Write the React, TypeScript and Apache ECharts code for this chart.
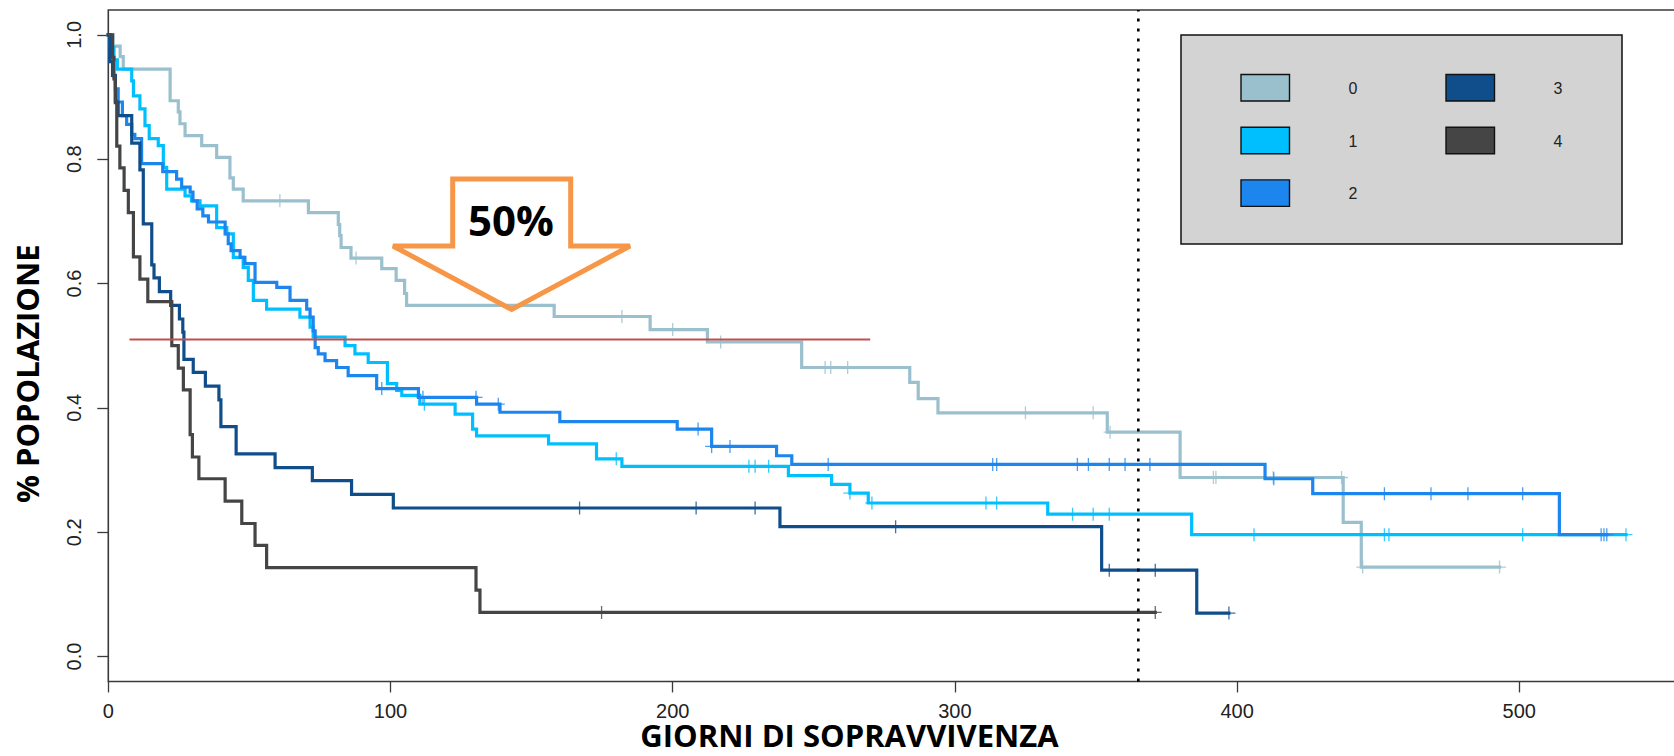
import React, { useEffect, useRef } from "react";
import * as echarts from "echarts";

// Groups and their line colours
const groups = ["0", "1", "2", "3", "4"];
const colors = ["#9AC0CD", "#00BFFF", "#1C86EE", "#104E8B", "#454545"];

// Kaplan–Meier steps per group: event time (days) and survival after the event
const times0 = [0, 1.7, 4.2, 5.3, 21.9, 24.8, 25.4, 27.2, 33.1, 38.4, 43.1, 44.3, 47.8, 70.9, 81.5, 82, 82.5, 86, 96.9, 102, 105, 105.7, 158, 192, 212.3, 245.7, 284, 287, 294, 354, 379.8, 437.6, 444];
const surv0 = [1, 0.982, 0.965, 0.945, 0.894, 0.876, 0.857, 0.838, 0.822, 0.803, 0.77, 0.752, 0.733, 0.714, 0.695, 0.677, 0.658, 0.641, 0.624, 0.605, 0.584, 0.565, 0.547, 0.526, 0.506, 0.465, 0.441, 0.415, 0.392, 0.361, 0.288, 0.216, 0.144];
const censor0 = [60.8, 87.8, 182, 200, 217, 254, 256, 262, 325, 349, 355, 391.6, 392.5, 412.8, 437, 444.5, 493];
const lastFollowUp0 = 493;

const times1 = [0, 0.5, 2, 3.2, 8.3, 8.9, 11.2, 13, 14.5, 17.7, 19.5, 20.7, 27.2, 29.5, 32.5, 38.4, 42, 44.3, 47.8, 49.6, 51.4, 56.1, 67.9, 71.5, 72.6, 83.9, 87.4, 92.1, 98.9, 102.2, 104, 110.4, 122.9, 129.1, 130.5, 156, 173, 182, 241, 256.3, 262.8, 269.3, 332.9, 383.9];
const surv1 = [1, 0.98, 0.96, 0.945, 0.926, 0.902, 0.881, 0.854, 0.833, 0.822, 0.787, 0.752, 0.741, 0.733, 0.725, 0.69, 0.68, 0.642, 0.626, 0.605, 0.573, 0.559, 0.546, 0.53, 0.514, 0.5, 0.487, 0.473, 0.439, 0.428, 0.42, 0.406, 0.39, 0.366, 0.355, 0.342, 0.318, 0.306, 0.291, 0.277, 0.263, 0.247, 0.229, 0.196];
const censor1 = [112, 180, 227, 229.2, 234, 262.8, 270.6, 311, 314.8, 341.7, 349, 354.7, 406, 452.2, 453.8, 501.2, 537.8];
const lastFollowUp1 = 537.8;

const times2 = [0, 0.7, 1.2, 1.8, 2.5, 3.5, 5, 6.5, 8.3, 9.4, 11.8, 19.3, 24.2, 26, 29, 30, 31.5, 33.5, 35.5, 41.4, 42.5, 43.5, 46.7, 48.4, 52, 59.7, 64.4, 70.3, 71.5, 72.6, 73.3, 74.4, 76.8, 80.9, 85, 95.1, 109.9, 130.5, 138.8, 160, 201.6, 213.8, 236.8, 242.2, 409.9, 426.8, 514.2];
const surv2 = [1, 0.98, 0.96, 0.934, 0.913, 0.892, 0.87, 0.856, 0.84, 0.833, 0.793, 0.78, 0.768, 0.755, 0.747, 0.733, 0.72, 0.709, 0.699, 0.68, 0.664, 0.653, 0.642, 0.632, 0.602, 0.594, 0.573, 0.559, 0.546, 0.524, 0.497, 0.487, 0.476, 0.465, 0.452, 0.431, 0.417, 0.406, 0.393, 0.378, 0.366, 0.338, 0.323, 0.309, 0.286, 0.262, 0.196];
const censor2 = [96.9, 111.5, 130.3, 138.2, 209, 213.8, 220.3, 255.1, 313.4, 314.8, 343.4, 347.3, 354.7, 360.3, 369.1, 413, 452.2, 468.7, 481.8, 501.2, 529, 530, 531];
const lastFollowUp2 = 531;

const times3 = [0, 0.5, 1.5, 2.5, 3.5, 8.3, 11.2, 12.4, 15.4, 16.2, 18.1, 22.1, 25.2, 26.4, 26.8, 30.1, 34.4, 39.2, 39.9, 45.3, 59.1, 72.3, 86.2, 101, 238, 352, 385.7];
const surv3 = [1, 0.957, 0.935, 0.891, 0.87, 0.826, 0.783, 0.696, 0.63, 0.609, 0.587, 0.565, 0.543, 0.522, 0.478, 0.457, 0.435, 0.413, 0.37, 0.326, 0.304, 0.283, 0.261, 0.239, 0.209, 0.139, 0.07];
const censor3 = [167, 208.3, 229.2, 279, 354.7, 371, 397.1];
const lastFollowUp3 = 397.1;

const times4 = [0, 1.5, 2, 2.5, 3, 4.1, 5.6, 7.1, 8.9, 11.2, 14, 22.5, 24.8, 26.6, 29, 29.8, 32.1, 41.4, 47.3, 52, 56.1, 130.3, 131.7];
const surv4 = [1, 0.964, 0.929, 0.893, 0.821, 0.786, 0.75, 0.714, 0.643, 0.607, 0.571, 0.5, 0.464, 0.429, 0.357, 0.321, 0.286, 0.25, 0.214, 0.179, 0.143, 0.107, 0.071];
const censor4 = [174.8, 371];
const lastFollowUp4 = 371;

// Axis ticks
const xTicks = [0, 100, 200, 300, 400, 500];
const yTicks = [0, 0.2, 0.4, 0.6, 0.8, 1.0];

// Reference marks: median survival level and one-year line
const medianLevel = 0.51;
const medianFrom = 7.5;
const medianTo = 270;
const oneYear = 365;

const curves = [
  { times: times0, surv: surv0, censor: censor0, last: lastFollowUp0 },
  { times: times1, surv: surv1, censor: censor1, last: lastFollowUp1 },
  { times: times2, surv: surv2, censor: censor2, last: lastFollowUp2 },
  { times: times3, surv: surv3, censor: censor3, last: lastFollowUp3 },
  { times: times4, surv: surv4, censor: censor4, last: lastFollowUp4 },
];

const PLUS = "path://M6.3,0H7.7V14H6.3Z M0,6.3H14V7.7H0Z";
const LABEL_FONT = "'Liberation Sans', Arial, sans-serif";
const TITLE_FONT = "'Open Sans', 'Noto Sans', sans-serif";

function survivalAt(times: number[], surv: number[], t: number): number {
  let v = surv[0];
  for (let i = 0; i < times.length; i++) {
    if (times[i] <= t) v = surv[i];
  }
  return v;
}

function buildSeries(): any[] {
  const out: any[] = [];
  curves.forEach((c, k) => {
    const pts = c.times.map((t, i) => [t, c.surv[i]]);
    pts.push([c.last, c.surv[c.surv.length - 1]]);
    out.push({
      type: "line",
      name: groups[k],
      step: "end",
      data: pts,
      symbol: "none",
      showSymbol: false,
      silent: true,
      lineStyle: { color: colors[k], width: 3.2, cap: "square", join: "miter" },
      itemStyle: { color: colors[k] },
      z: 2 + k,
    });
    out.push({
      type: "scatter",
      name: groups[k] + " censored",
      data: c.censor.map((t) => [t, survivalAt(c.times, c.surv, t)]),
      symbol: PLUS,
      symbolSize: 13,
      silent: true,
      itemStyle: { color: colors[k] },
      z: 2 + k,
    });
  });
  out.push({
    type: "line",
    name: "median",
    data: [
      [medianFrom, medianLevel],
      [medianTo, medianLevel],
    ],
    symbol: "none",
    silent: true,
    lineStyle: { color: "#C0504D", width: 2 },
    z: 10,
  });
  out.push({
    type: "line",
    name: "one year",
    data: [
      [oneYear, -0.04],
      [oneYear, 1.04],
    ],
    symbol: "none",
    silent: true,
    lineStyle: { color: "#000", width: 2.6, type: [3, 7] },
    z: 11,
  });
  return out;
}

function buildLegend(): any[] {
  const box = { x: 1181, y: 35, w: 441, h: 209 };
  const children: any[] = [
    {
      type: "rect",
      shape: { x: box.x, y: box.y, width: box.w, height: box.h },
      style: { fill: "#D3D3D3", stroke: "#111", lineWidth: 1.5 },
    },
  ];
  groups.forEach((g, k) => {
    const col = k < 3 ? 0 : 1;
    const row = k < 3 ? k : k - 3;
    const sx = 1241 + col * 205;
    const sy = 74.5 + row * 52.7;
    children.push({
      type: "rect",
      shape: { x: sx, y: sy, width: 48.5, height: 26.5 },
      style: { fill: colors[k], stroke: "#111", lineWidth: 1.4 },
    });
    children.push({
      type: "text",
      x: sx + 112,
      y: sy + 14,
      style: {
        text: g,
        fontSize: 16,
        fontFamily: LABEL_FONT,
        fill: "#222",
        align: "center",
        verticalAlign: "middle",
      },
    });
  });
  return children;
}

function buildArrow(): any[] {
  return [
    {
      type: "polygon",
      shape: {
        points: [
          [452.7, 179],
          [570.7, 179],
          [570.7, 246],
          [630, 246],
          [511.7, 309.5],
          [393, 246],
          [452.7, 246],
        ],
      },
      style: { fill: "none", stroke: "#F79646", lineWidth: 5, lineJoin: "miter", miterLimit: 10 },
      z: 20,
    },
    {
      type: "text",
      x: 511,
      y: 219,
      style: {
        text: "50%",
        fontSize: 42,
        fontWeight: "bold",
        fontFamily: TITLE_FONT,
        fill: "#000",
        align: "center",
        verticalAlign: "middle",
      },
      z: 21,
    },
  ];
}

export default function App() {
  const ref = useRef<HTMLDivElement>(null);

  useEffect(() => {
    if (!ref.current) return;
    const chart = echarts.init(ref.current, null, { renderer: "svg" });
    const option: any = {
      animation: false,
      backgroundColor: "#fff",
      grid: {
        left: 108.3,
        top: 10,
        width: 560 * 2.822,
        height: 1.08 * 621.7,
        show: true,
        borderColor: "#3a3a3a",
        borderWidth: 1.6,
        backgroundColor: "transparent",
        containLabel: false,
        outerBoundsMode: "none",
      },
      xAxis: {
        type: "value",
        min: 0,
        max: 560,
        axisLine: { show: false, onZero: false },
        splitLine: { show: false },
        axisTick: {
          show: true,
          length: 11,
          customValues: xTicks,
          lineStyle: { color: "#3a3a3a", width: 1.3 },
        },
        axisLabel: {
          customValues: xTicks,
          fontSize: 20,
          fontFamily: LABEL_FONT,
          color: "#222",
          margin: 20,
        },
        name: "GIORNI DI SOPRAVVIVENZA",
        nameLocation: "middle",
        nameGap: 38,
        nameMoveOverlap: false,
        nameTextStyle: {
          fontFamily: TITLE_FONT,
          fontWeight: "bold",
          fontSize: 31,
          color: "#000",
          padding: [0, 98, 0, 0],
        },
      },
      yAxis: {
        type: "value",
        min: -0.04,
        max: 1.04,
        axisLine: { show: false, onZero: false },
        splitLine: { show: false },
        axisTick: {
          show: true,
          length: 11,
          customValues: yTicks,
          lineStyle: { color: "#3a3a3a", width: 1.3 },
        },
        axisLabel: {
          customValues: yTicks,
          rotate: 90,
          fontSize: 20,
          fontFamily: LABEL_FONT,
          color: "#222",
          margin: 24,
          formatter: (v: number) => v.toFixed(1),
        },
        name: "% POPOLAZIONE",
        nameLocation: "middle",
        nameGap: 66,
        nameTextStyle: {
          fontFamily: TITLE_FONT,
          fontWeight: "bold",
          fontSize: 31,
          color: "#000",
          padding: [0, 56, 0, 0],
        },
      },
      series: buildSeries(),
      graphic: [...buildLegend(), ...buildArrow()],
    };
    chart.setOption(option);
    return () => chart.dispose();
  }, []);

  return (
    <div
      ref={ref}
      style={{ position: "fixed", left: 0, top: 0, width: 1674, height: 756, background: "#fff" }}
    />
  );
}
